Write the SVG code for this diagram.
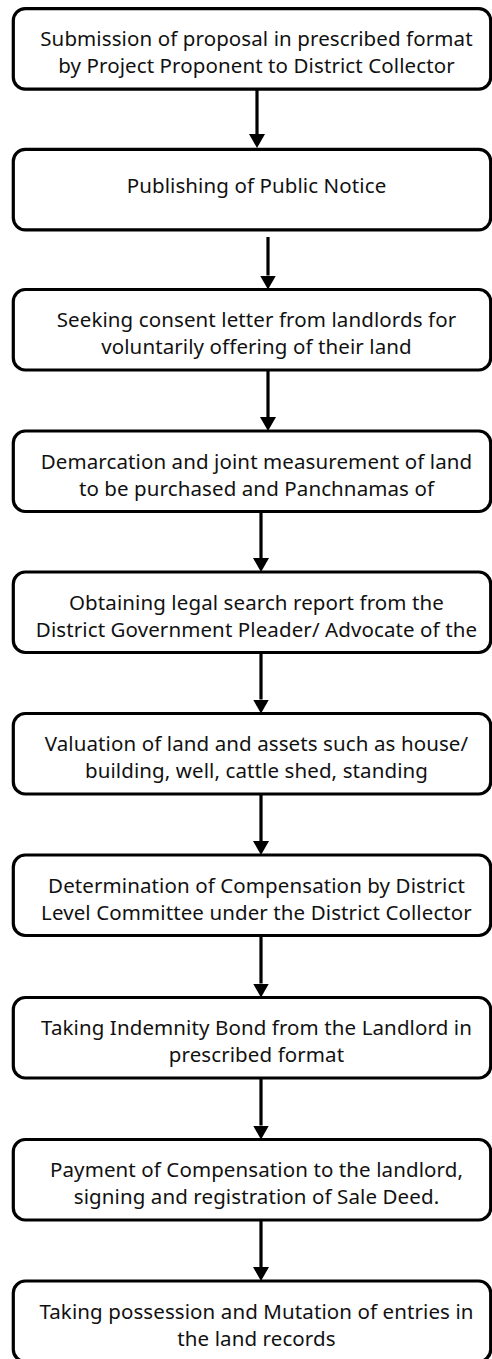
<svg xmlns="http://www.w3.org/2000/svg" width="492" height="1359" viewBox="0 0 492 1359">
  <style>
    .box { fill: #ffffff; stroke: #000000; stroke-width: 3.2; }
    .lbl { font-family: "Noto Sans", "Open Sans", "Liberation Sans", sans-serif; font-size: 20.5px; letter-spacing: 0.1px; fill: #111111; text-anchor: middle; }
    .conn { stroke: #000000; stroke-width: 3.2; fill: none; marker-end: url(#head); }
  </style>
  <defs>
    <marker id="head" markerUnits="userSpaceOnUse" viewBox="0 0 14 16" refX="0" refY="8" markerWidth="14" markerHeight="16" orient="auto">
      <path d="M0,0 L14,8 L0,16 z" fill="#000000"/>
    </marker>
  </defs>
  <rect width="492" height="1359" fill="#ffffff"/>

  <!-- connectors: each line stops at the arrowhead base; the head adds 14px -->
  <g id="connectors">
    <line class="conn" x1="257" y1="89" x2="257" y2="134"/>
    <line class="conn" x1="268" y1="237" x2="268" y2="275.5"/>
    <line class="conn" x1="268" y1="371" x2="268" y2="417"/>
    <line class="conn" x1="261" y1="512" x2="261" y2="558"/>
    <line class="conn" x1="261" y1="653" x2="261" y2="699.5"/>
    <line class="conn" x1="261" y1="795" x2="261" y2="841"/>
    <line class="conn" x1="261" y1="936" x2="261" y2="983.5"/>
    <line class="conn" x1="261" y1="1079" x2="261" y2="1125.5"/>
    <line class="conn" x1="261" y1="1221" x2="261" y2="1267"/>
  </g>

  <g id="step1">
    <rect class="box" x="13.3" y="8.7" width="477.4" height="80.5" rx="12"/>
    <text class="lbl" x="256.5" y="46">Submission of proposal in prescribed format</text>
    <text class="lbl" x="256.5" y="73.2">by Project Proponent to District Collector</text>
  </g>
  <g id="step2">
    <rect class="box" x="13.3" y="149.3" width="477.4" height="80.5" rx="12"/>
    <text class="lbl" x="256.5" y="193">Publishing of Public Notice</text>
  </g>
  <g id="step3">
    <rect class="box" x="13.3" y="289.5" width="477.4" height="80.5" rx="12"/>
    <text class="lbl" x="256.5" y="327">Seeking consent letter from landlords for</text>
    <text class="lbl" x="256.5" y="354.2">voluntarily offering of their land</text>
  </g>
  <g id="step4">
    <rect class="box" x="13.3" y="431" width="477.4" height="80.5" rx="12"/>
    <text class="lbl" x="256.5" y="468.5">Demarcation and joint measurement of land</text>
    <text class="lbl" x="256.5" y="495.7">to be purchased and Panchnamas of</text>
  </g>
  <g id="step5">
    <rect class="box" x="13.3" y="572" width="477.4" height="80.5" rx="12"/>
    <text class="lbl" x="256.5" y="609.5">Obtaining legal search report from the</text>
    <text class="lbl" x="256.5" y="636.7">District Government Pleader/ Advocate of the</text>
  </g>
  <g id="step6">
    <rect class="box" x="13.3" y="713.5" width="477.4" height="80.5" rx="12"/>
    <text class="lbl" x="256.5" y="751">Valuation of land and assets such as house/</text>
    <text class="lbl" x="256.5" y="778.2">building, well, cattle shed, standing</text>
  </g>
  <g id="step7">
    <rect class="box" x="13.3" y="855" width="477.4" height="80.5" rx="12"/>
    <text class="lbl" x="256.5" y="892.5">Determination of Compensation by District</text>
    <text class="lbl" x="256.5" y="919.7">Level Committee under the District Collector</text>
  </g>
  <g id="step8">
    <rect class="box" x="13.3" y="997.5" width="477.4" height="80.5" rx="12"/>
    <text class="lbl" x="256.5" y="1035">Taking Indemnity Bond from the Landlord in</text>
    <text class="lbl" x="256.5" y="1062.2">prescribed format</text>
  </g>
  <g id="step9">
    <rect class="box" x="13.3" y="1139.5" width="477.4" height="80.5" rx="12"/>
    <text class="lbl" x="256.5" y="1177">Payment of Compensation to the landlord,</text>
    <text class="lbl" x="256.5" y="1204.2">signing and registration of Sale Deed.</text>
  </g>
  <g id="step10">
    <rect class="box" x="13.3" y="1281" width="477.4" height="80.5" rx="12"/>
    <text class="lbl" x="256.5" y="1318.5">Taking possession and Mutation of entries in</text>
    <text class="lbl" x="256.5" y="1345.7">the land records</text>
  </g>
</svg>
